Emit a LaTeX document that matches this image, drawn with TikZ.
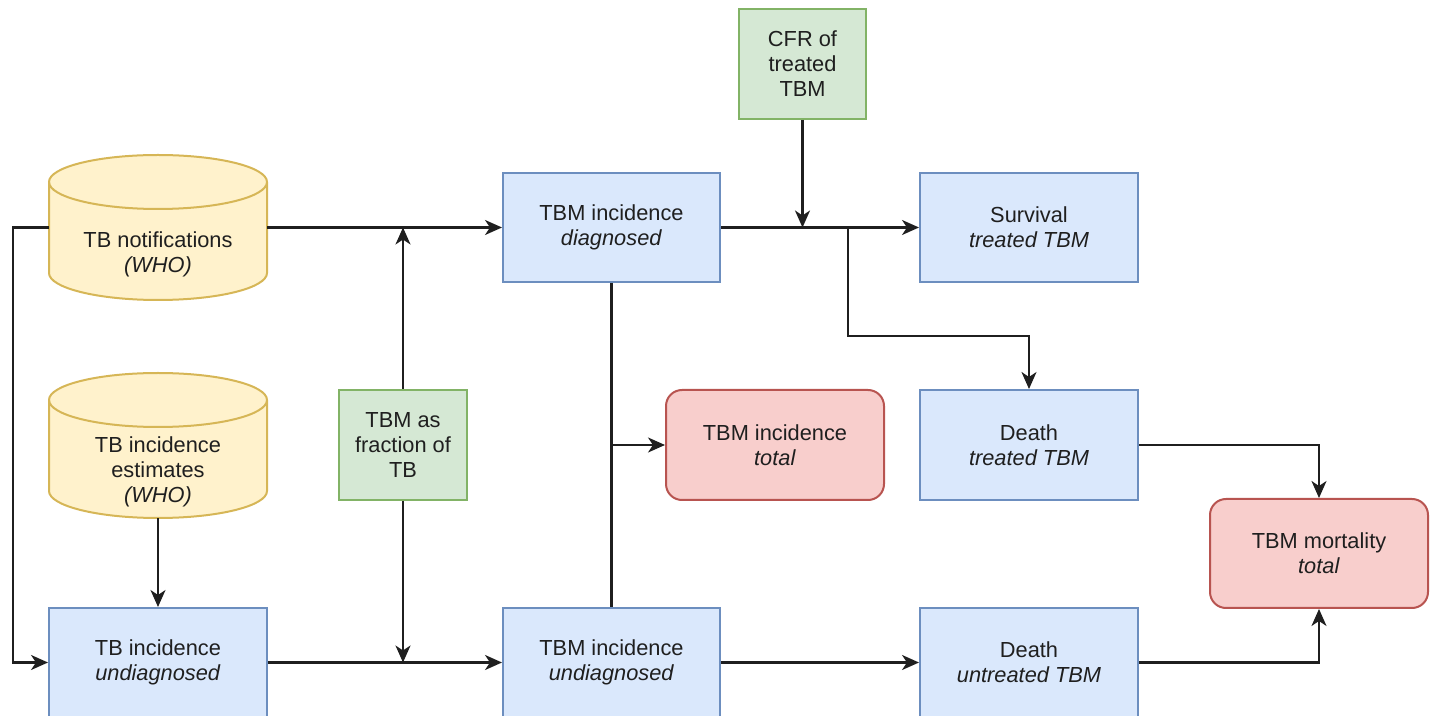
\documentclass[tikz,border=0pt]{standalone}
\usepackage{fontspec}
\setmainfont{Liberation Sans}
\usetikzlibrary{arrows.meta}
\definecolor{bluefill}{HTML}{DAE8FC}
\definecolor{bluedraw}{HTML}{6C8EBF}
\definecolor{yelfill}{HTML}{FFF2CC}
\definecolor{yeldraw}{HTML}{D6B656}
\definecolor{grnfill}{HTML}{D5E8D4}
\definecolor{grndraw}{HTML}{82B366}
\definecolor{redfill}{HTML}{F8CECC}
\definecolor{reddraw}{HTML}{B85450}
\definecolor{linecol}{HTML}{1F1F1F}
\definecolor{txtcol}{HTML}{1F1F1F}
\begin{document}
\begin{tikzpicture}[x=1pt,y=1pt,
  every node/.style={font=\fontsize{21.8}{25}\selectfont, text=txtcol, align=center, inner sep=0pt},
  bluebox/.style={draw=bluedraw, fill=bluefill, line width=2pt, minimum width=217pt, minimum height=109pt},
  grnbox/.style={draw=grndraw, fill=grnfill, line width=2pt, minimum width=127pt, minimum height=109pt},
  redbox/.style={draw=reddraw, fill=redfill, line width=2pt, rounded corners=16pt, minimum width=217pt, minimum height=109pt},
  cylarea/.style={minimum width=218pt, minimum height=145pt},
  cylshape/.style={draw=yeldraw, fill=yelfill, line width=2pt},
  conn/.style={draw=linecol, line width=2.2pt},
  arr/.style={conn, -{Stealth[length=17pt, width=15pt, inset=5pt]}}
]
\useasboundingbox (0,0) rectangle (1432,715);
\clip (0,0) rectangle (1432,715);

% cylinders
\node[cylarea] (notif) at (158,487.5) {};
\node[cylarea] (est) at (158,269.5) {};
\path[cylshape] (49,533) -- (49,442) arc[start angle=180, end angle=360, x radius=109pt, y radius=27pt] -- (267,533) arc[start angle=0, end angle=180, x radius=109pt, y radius=27pt] -- cycle;
\draw[cylshape, fill=none] (49,533) arc[start angle=180, end angle=360, x radius=109pt, y radius=27pt];
\path[cylshape] (49,315) -- (49,224) arc[start angle=180, end angle=360, x radius=109pt, y radius=27pt] -- (267,315) arc[start angle=0, end angle=180, x radius=109pt, y radius=27pt] -- cycle;
\draw[cylshape, fill=none] (49,315) arc[start angle=180, end angle=360, x radius=109pt, y radius=27pt];
\node (notiftxt) at (158,461) {TB notifications\\\textit{(WHO)}};
\node (esttxt) at (158,243.5) {TB incidence\\estimates\\\textit{(WHO)}};

% boxes
\node[bluebox, minimum width=218pt] (tbund) at (158,52.5) {TB incidence\\\textit{undiagnosed}};
\node[grnbox, minimum width=128pt, minimum height=110pt] (frac) at (403,270) {TBM as\\fraction of\\TB};
\node[bluebox] (diag) at (611.5,487.5) {TBM incidence\\\textit{diagnosed}};
\node[bluebox] (tbmund) at (611.5,52.5) {TBM incidence\\\textit{undiagnosed}};
\node[redbox, minimum width=218pt, minimum height=110pt] (total) at (775,270) {TBM incidence\\\textit{total}};
\node[grnbox, minimum height=110pt] (cfr) at (802.5,651) {CFR of\\treated\\TBM};
\node[bluebox, minimum width=218pt] (surv) at (1029,487.5) {Survival\\\textit{treated TBM}};
\node[bluebox, minimum width=218pt, minimum height=110pt] (deatht) at (1029,270) {Death\\\textit{treated TBM}};
\node[bluebox, minimum width=218pt] (deathu) at (1029,52.5) {Death\\\textit{untreated TBM}};
\node[redbox, minimum width=218pt] (mort) at (1319,161.5) {TBM mortality\\\textit{total}};

% connectors
\draw[arr] (notif.east) -- (diag.west);
\draw[arr] (notif.west) -- ++(-36,0) |- (tbund.west);
\draw[arr] (est.south) -- (tbund.north);
\draw[arr] (tbund.east) -- (tbmund.west);
\draw[arr] (frac.north) -- (frac.north |- diag.west);
\draw[arr] (frac.south) -- (frac.south |- tbmund.west);
\draw[arr] (diag.east) -- (surv.west);
\draw[arr] (cfr.south) -- (cfr.south |- diag.east);
\coordinate (br) at (848,487.5);
\draw[arr] (br) -- (848,379) -| (deatht.north);
\draw[conn] (diag.south) -- (tbmund.north);
\coordinate (jn) at (diag.south |- total.west);
\draw[arr] (jn) -- (total.west);
\draw[arr] (tbmund.east) -- (deathu.west);
\draw[arr] (deatht.east) -| (mort.north);
\draw[arr] (deathu.east) -| (mort.south);
\end{tikzpicture}
\end{document}
